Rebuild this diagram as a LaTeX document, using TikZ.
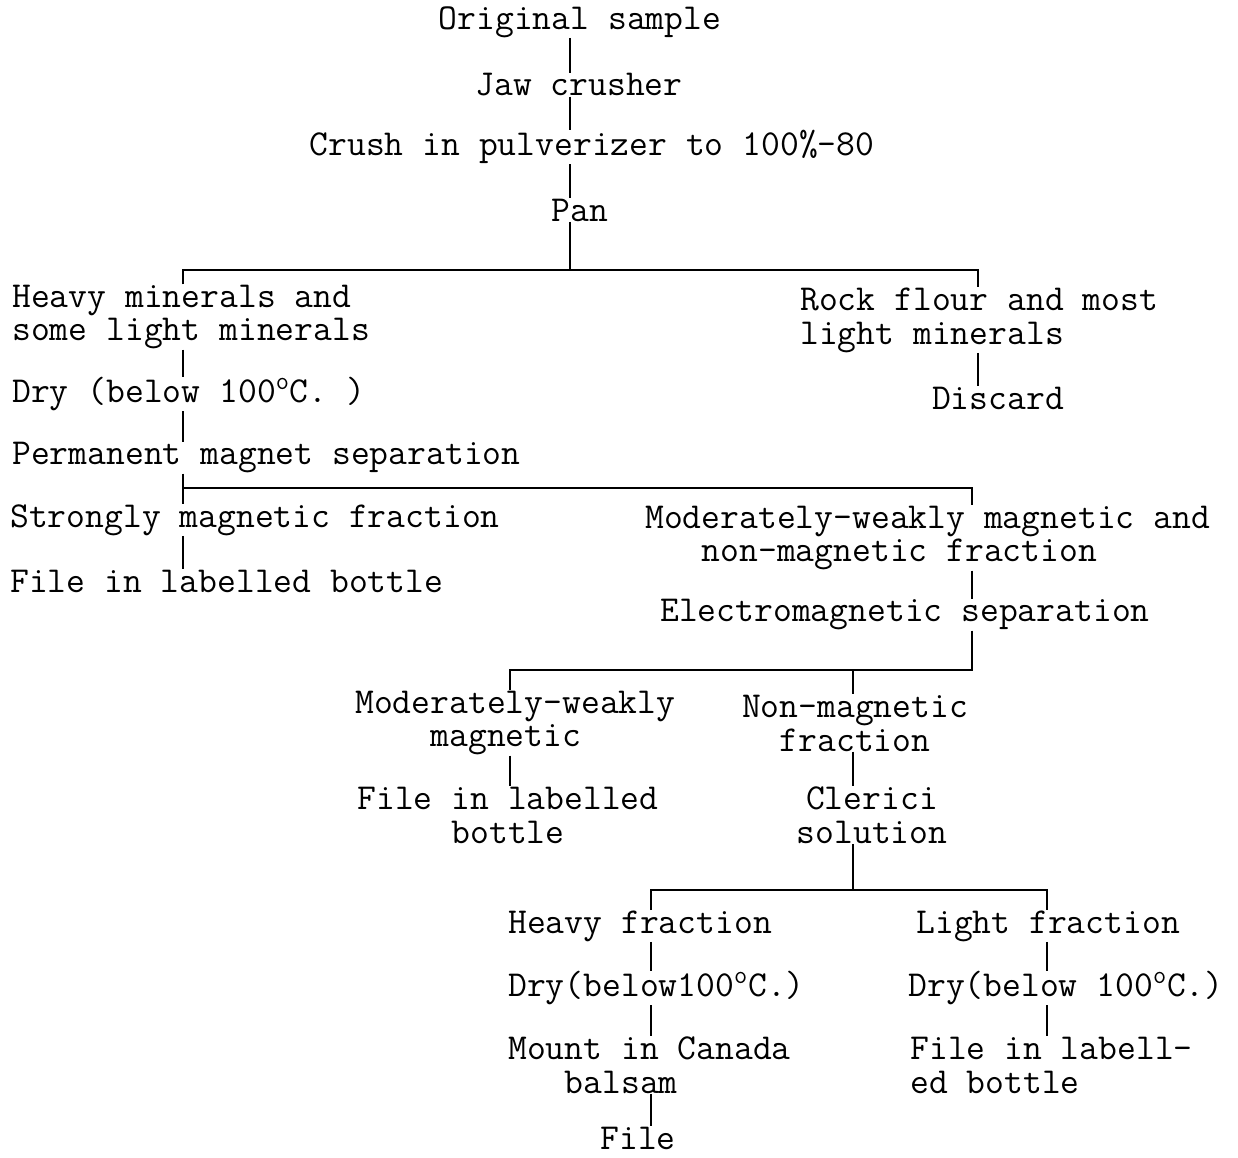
\documentclass[tikz,border=0pt]{standalone}
\usepackage{tikz}

\begin{document}
\begin{tikzpicture}[x=0.02cm,y=0.02cm,
		txt/.style={inner sep=0pt,font=\ttfamily\fontsize{20.8}{19.3}\selectfont},
		ln/.style={line width=1.4pt}]
		\useasboundingbox (0,0) rectangle (1238,-1158);
		% columns and bars
		\coordinate (c0) at (570,0);
		\coordinate (cL) at (183,0);
		\coordinate (cR) at (978,0);
		\coordinate (cM) at (972,0);
		\coordinate (cA) at (510,0);
		\coordinate (cB) at (853,0);
		\coordinate (cH) at (651,0);
		\coordinate (cG) at (1047,0);
		\coordinate (b1) at (0,-270);
		\coordinate (b2) at (0,-488);
		\coordinate (b3) at (0,-670);
		\coordinate (b4) at (0,-890);
		% top
		\node[txt] (orig) at (580,-22) {Original sample};
		\node[txt] (jaw) at (579,-85) {Jaw crusher};
		\node[txt] (crush) at (592,-147) {Crush in pulverizer to 100\%-80};
		\node[txt] (pan) at (580,-210) {Pan};
		\draw[ln] (orig.south -| c0) -- (jaw.north -| c0);
		\draw[ln] (jaw.south -| c0) -- (crush.north -| c0);
		\draw[ln] (crush.south -| c0) -- (pan.north -| c0);
		\draw[ln] (pan.south -| c0) -- (c0 |- b1);
		% pan split
		\node[txt,anchor=west,align=left] (heavy) at (12,-317) {Heavy minerals and\\some light minerals};
		\node[txt,anchor=west,align=left] (rock) at (800,-320) {Rock flour and most\\light minerals};
		\draw[ln] (heavy.north -| cL) -- (cL |- b1) -- (cR |- b1) -- (rock.north -| cR);
		\node[txt] (discard) at (998,-398) {Discard};
		\draw[ln] (rock.south -| cR) -- (discard.north -| cR);
		\node[txt,anchor=west] (dry1) at (12,-394) {Dry (below 100\textsuperscript{o}C. )};
		\node[txt,anchor=west] (perm) at (12,-458) {Permanent magnet separation};
		\draw[ln] (heavy.south -| cL) -- (dry1.north -| cL);
		\draw[ln] (dry1.south -| cL) -- (perm.north -| cL);
		% magnet split
		\node[txt,anchor=west] (strong) at (10,-520) {Strongly magnetic fraction};
		\node[txt,anchor=west] (file1) at (10,-581) {File in labelled bottle};
		\node[txt,anchor=west,align=left] (moder) at (645,-538) {Moderately-weakly magnetic and\\\hphantom{Mod}non-magnetic fraction};
		\draw[ln] (perm.south -| cL) -- (strong.north -| cL);
		\draw[ln] (cL |- b2) -- (cM |- b2) -- (moder.north -| cM);
		\draw[ln] (strong.south -| cL) -- (file1.north -| cL);
		\node[txt,anchor=west] (electro) at (660,-615) {Electromagnetic separation};
		\draw[ln] (moder.south -| cM) -- (electro.north -| cM);
		% electromagnet split
		\node[txt,anchor=west,align=left] (mw) at (355,-723) {Moderately-weakly\\\hphantom{Mode}magnetic};
		\node[txt,align=center] (nonmag) at (855,-723) {Non-magnetic\\fraction};
		\draw[ln] (electro.south -| cM) -- (cM |- b3) -- (cA |- b3) -- (mw.north -| cA);
		\draw[ln] (cB |- b3) -- (nonmag.north -| cB);
		\node[txt,align=center] (file2) at (508,-815) {File in labelled\\bottle};
		\node[txt,align=center] (clerici) at (872,-815) {Clerici\\solution};
		\draw[ln] (mw.south -| cA) -- (file2.north -| cA);
		\draw[ln] (nonmag.south -| cB) -- (clerici.north -| cB);
		% clerici split
		\node[txt,anchor=west] (heavyf) at (508,-926) {Heavy fraction};
		\node[txt,anchor=west] (lightf) at (916,-926) {Light fraction};
		\draw[ln] (clerici.south -| cB) -- (cB |- b4);
		\draw[ln] (heavyf.north -| cH) -- (cH |- b4) -- (cG |- b4) -- (lightf.north -| cG);
		\node[txt,anchor=west] (dry2) at (508,-988) {Dry(below100\textsuperscript{o}C.)};
		\node[txt,anchor=west] (dry3) at (908,-988) {Dry(below 100\textsuperscript{o}C.)};
		\draw[ln] (heavyf.south -| cH) -- (dry2.north -| cH);
		\draw[ln] (lightf.south -| cG) -- (dry3.north -| cG);
		\node[txt,anchor=west,align=left] (mount) at (508,-1065) {Mount in Canada\\\hphantom{Mou}balsam};
		\node[txt,anchor=west,align=left] (file3) at (910,-1065) {File in labell-\\ed bottle};
		\draw[ln] (dry2.south -| cH) -- (mount.north -| cH);
		\draw[ln] (dry3.south -| cG) -- (file3.north -| cG);
		\node[txt] (file4) at (638,-1138) {File};
		\draw[ln] (mount.south -| cH) -- (file4.north -| cH);
	\end{tikzpicture}
\end{document}
